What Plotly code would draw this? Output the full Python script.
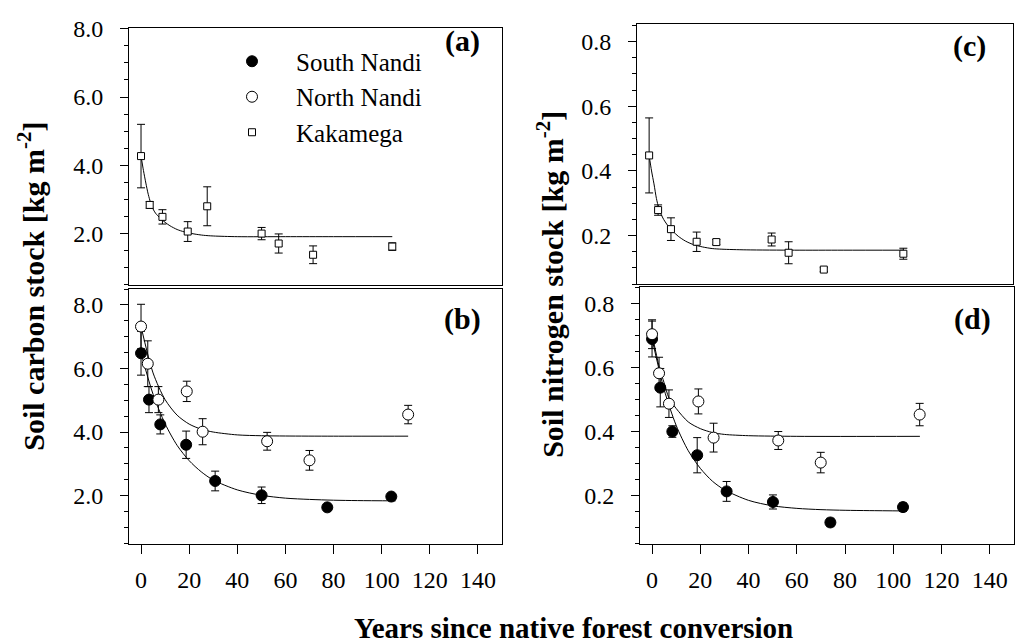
import plotly.graph_objects as go

# ---------------- data ----------------
# Kakamega (panels a, c)
kak_x_c = [0, 3.6, 8.9, 19.4, 27.5, 50.1, 57.2, 71.5, 104.4]
kak_c = [4.27, 2.84, 2.49, 2.06, 2.80, 2.00, 1.71, 1.38, 1.62]
kak_c_err = [0.93, 0.10, 0.21, 0.29, 0.57, 0.18, 0.28, 0.26, 0.11]
kak_x_n = [0, 3.7, 9.0, 19.6, 27.7, 50.5, 57.5, 72.0, 104.8]
kak_n = [0.448, 0.279, 0.220, 0.181, 0.180, 0.188, 0.147, 0.095, 0.144]
kak_n_err = [0.116, 0.016, 0.035, 0.030, 0.008, 0.020, 0.034, 0.006, 0.017]

# South / North Nandi carbon (panel b)
sn_x_c = [0, 3.3, 8.0, 18.75, 30.8, 50.1, 77.4, 104.0]
sn_c = [6.48, 5.02, 4.24, 3.60, 2.46, 2.01, 1.63, 1.97]
sn_c_err = [0.69, 0.41, 0.30, 0.43, 0.31, 0.26, 0.08, 0.08]
nn_x_c = [0, 2.8, 7.2, 19.0, 25.6, 52.4, 70.0, 111.0]
nn_c = [7.32, 6.15, 5.02, 5.28, 4.01, 3.71, 3.11, 4.55]
nn_c_err = [0.70, 0.72, 0.41, 0.32, 0.41, 0.28, 0.31, 0.29]

# South / North Nandi nitrogen (panel d)
sn_x_n = [0, 3.4, 8.4, 18.7, 30.9, 50.1, 73.9, 104.0]
sn_n = [0.689, 0.537, 0.400, 0.326, 0.213, 0.180, 0.116, 0.164]
sn_n_err = [0.056, 0.060, 0.018, 0.055, 0.031, 0.022, 0.013, 0.013]
nn_x_n = [0, 2.9, 7.0, 19.2, 25.5, 52.3, 69.9, 110.9]
nn_n = [0.704, 0.582, 0.487, 0.494, 0.381, 0.372, 0.303, 0.453]
nn_n_err = [0.045, 0.050, 0.043, 0.039, 0.045, 0.028, 0.032, 0.035]

# fitted curves
fit_a_x = [0, 1, 2, 3, 4, 5, 6, 8, 10, 12, 15, 18, 22, 26, 30, 40, 60, 80, 104.4]
fit_a_y = [4.27, 3.85, 3.48, 3.15, 2.90, 2.72, 2.60, 2.45, 2.33, 2.23, 2.12, 2.05,
           1.99, 1.95, 1.93, 1.91, 1.91, 1.91, 1.91]
fit_c_x = [0, 1, 2, 3, 4, 5, 6, 8, 10, 12, 15, 18, 22, 26, 30, 40, 60, 80, 104.8]
fit_c_y = [0.448, 0.400, 0.360, 0.315, 0.285, 0.265, 0.250, 0.228, 0.212, 0.198,
           0.183, 0.173, 0.165, 0.160, 0.158, 0.156, 0.155, 0.155, 0.155]
fit_bs_x = [0, 5, 10, 15, 20, 25, 30, 40, 50, 60, 70, 80, 90, 105.8]
fit_bs_y = [6.48, 5.19, 4.26, 3.58, 3.10, 2.75, 2.49, 2.18, 2.01, 1.92, 1.88,
            1.855, 1.843, 1.835]
fit_bn_x = [0, 5, 10, 15, 20, 25, 30, 40, 50, 60, 80, 111]
fit_bn_y = [7.32, 5.86, 5.02, 4.53, 4.25, 4.09, 4.00, 3.91, 3.884, 3.875, 3.87, 3.87]
fit_ds_x = [0, 5, 10, 15, 20, 25, 30, 40, 50, 60, 70, 80, 90, 105]
fit_ds_y = [0.689, 0.531, 0.419, 0.340, 0.285, 0.245, 0.218, 0.185, 0.168, 0.160,
            0.156, 0.154, 0.153, 0.152]
fit_dn_x = [0, 3, 5, 7, 10, 15, 20, 25, 30, 40, 60, 111]
fit_dn_y = [0.704, 0.601, 0.552, 0.505, 0.472, 0.430, 0.409, 0.397, 0.391, 0.387,
            0.385, 0.385]

x_ticks = [0, 20, 40, 60, 80, 100, 120, 140]

# ---------------- figure ----------------
W, H = 1015, 643
FONT = "Liberation Serif"

def px(v):
    return v / W

def py(v):
    return 1 - v / H

fig = go.Figure()

err_style = dict(type="data", thickness=1, width=4, color="black")

def points(x, y, e, name, xa, ya, symbol, fill, size, show):
    fig.add_trace(go.Scatter(
        x=x, y=y, mode="markers", name=name, xaxis=xa, yaxis=ya,
        error_y=dict(array=e, **err_style),
        marker=dict(symbol=symbol, size=size, color=fill,
                    line=dict(color="black", width=1)),
        showlegend=show, legendgroup=name))

def curve(x, y, xa, ya):
    fig.add_trace(go.Scatter(
        x=x, y=y, mode="lines", xaxis=xa, yaxis=ya, showlegend=False,
        line=dict(color="black", width=1, shape="spline", smoothing=0.8),
        hoverinfo="skip"))

# curves first (behind markers)
curve(fit_a_x, fit_a_y, "x", "y")
curve(fit_bs_x, fit_bs_y, "x2", "y2")
curve(fit_bn_x, fit_bn_y, "x2", "y2")
curve(fit_c_x, fit_c_y, "x3", "y3")
curve(fit_ds_x, fit_ds_y, "x4", "y4")
curve(fit_dn_x, fit_dn_y, "x4", "y4")

# markers (order defines legend order)
points(sn_x_c, sn_c, sn_c_err, "South Nandi", "x2", "y2", "circle", "black", 11, True)
points(nn_x_c, nn_c, nn_c_err, "North Nandi", "x2", "y2", "circle", "white", 11, True)
points(kak_x_c, kak_c, kak_c_err, "Kakamega", "x", "y", "square", "white", 7, True)
points(kak_x_n, kak_n, kak_n_err, "Kakamega", "x3", "y3", "square", "white", 7, False)
points(sn_x_n, sn_n, sn_n_err, "South Nandi", "x4", "y4", "circle", "black", 11, False)
points(nn_x_n, nn_n, nn_n_err, "North Nandi", "x4", "y4", "circle", "white", 11, False)

tickfont = dict(family=FONT, size=24, color="black")

def xaxis(domain, anchor, labels):
    d = dict(domain=domain, anchor=anchor, range=[-5, 150],
             showline=True, linecolor="black", linewidth=1, mirror=True,
             showgrid=False, zeroline=False, tickfont=tickfont,
             tickvals=x_ticks, ticktext=[str(v) for v in x_ticks])
    if labels:
        d.update(ticks="outside", ticklen=9, tickcolor="black", tickwidth=1,
                 showticklabels=True, ticklabelstandoff=6)
    else:
        d.update(ticks="", showticklabels=False)
    return d

def yaxis(domain, anchor, rng, dtick, minor, fmt):
    return dict(domain=domain, anchor=anchor, range=rng,
                showline=True, linecolor="black", linewidth=1, mirror=True,
                showgrid=False, zeroline=False, tickfont=tickfont,
                ticks="outside", ticklen=8, tickcolor="black", tickwidth=1,
                tick0=0, dtick=dtick, tickformat=fmt, ticklabelstandoff=12,
                minor=dict(tick0=0, dtick=minor, ticks="outside", ticklen=4,
                           tickcolor="black", tickwidth=1, showgrid=False))

L_dom = [px(129), px(502)]
R_dom_c = [px(637), px(1013)]
R_dom_d = [px(640), px(1014)]
A_dom = [py(278), py(16)]
B_dom = [py(541.7), py(282.3)]
C_dom = [py(277.3), py(12.7)]
D_dom = [py(541.7), py(280.7)]

fig.update_layout(
    width=W, height=H,
    margin=dict(l=0, r=0, t=0, b=0),
    paper_bgcolor="white", plot_bgcolor="white",
    font=dict(family=FONT, color="black"),
    xaxis=xaxis(L_dom, "y", False),
    yaxis=yaxis(A_dom, "x", [0.5, 8.03], 2, 0.5, ".1f"),
    xaxis2=xaxis(L_dom, "y2", True),
    yaxis2=yaxis(B_dom, "x2", [0.49, 8.5], 2, 0.5, ".1f"),
    xaxis3=xaxis(R_dom_c, "y3", False),
    yaxis3=yaxis(C_dom, "x3", [0.05, 0.853], 0.2, 0.05, ".1f"),
    xaxis4=xaxis(R_dom_d, "y4", True),
    yaxis4=yaxis(D_dom, "x4", [0.05, 0.85], 0.2, 0.05, ".1f"),
    showlegend=True,
    legend=dict(x=px(208), y=py(27), xanchor="left", yanchor="top",
                bgcolor="rgba(0,0,0,0)", borderwidth=0,
                font=dict(family=FONT, size=25, color="black"),
                itemwidth=78, tracegroupgap=0),
)

annotations = [
    dict(text="<b>(a)</b>", x=px(462), y=py(30)),
    dict(text="<b>(b)</b>", x=px(462), y=py(313)),
    dict(text="<b>(c)</b>", x=px(969), y=py(35)),
    dict(text="<b>(d)</b>", x=px(972), y=py(313)),
]
anns = []
for a in annotations:
    anns.append(dict(a, xref="paper", yref="paper", showarrow=False,
                     xanchor="center", yanchor="middle",
                     font=dict(family=FONT, size=30, color="black")))
anns.append(dict(text="<b>Years since native forest conversion</b>",
                 x=px(573), y=py(628), xref="paper", yref="paper",
                 showarrow=False, xanchor="center", yanchor="middle",
                 font=dict(family=FONT, size=29, color="black")))
anns.append(dict(text="<b>Soil carbon stock [kg m<sup>-2</sup>]</b>",
                 x=px(31), y=py(280), xref="paper", yref="paper",
                 showarrow=False, xanchor="center", yanchor="middle",
                 textangle=-90,
                 font=dict(family=FONT, size=30, color="black")))
anns.append(dict(text="<b>Soil nitrogen stock [kg m<sup>-2</sup>]</b>",
                 x=px(550), y=py(278), xref="paper", yref="paper",
                 showarrow=False, xanchor="center", yanchor="middle",
                 textangle=-90,
                 font=dict(family=FONT, size=30, color="black")))
fig.update_layout(annotations=anns)

fig.write_html("out.html")
